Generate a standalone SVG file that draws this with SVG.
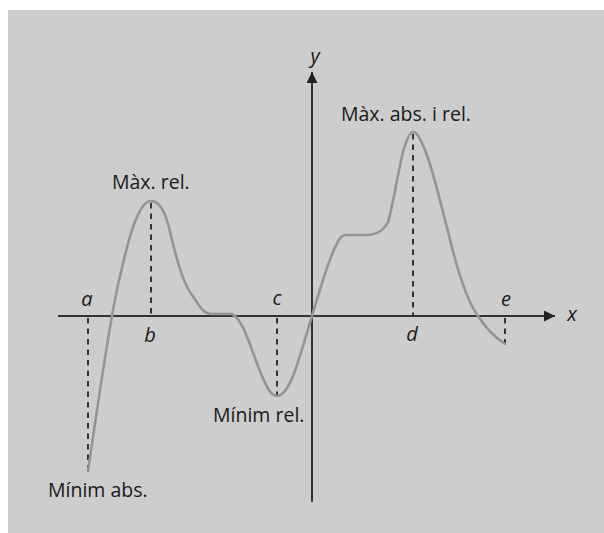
<svg xmlns="http://www.w3.org/2000/svg" width="604" height="533" viewBox="0 0 604 533">
  <defs>
    <style>
      .axis { stroke: #333; stroke-width: 2; fill: none; }
      .curve { stroke: #949494; stroke-width: 2.6; fill: none; stroke-linejoin: round; stroke-linecap: round; }
      .dash { stroke: #333; stroke-width: 2; stroke-dasharray: 5.5 5; fill: none; }
      .lbl { font-family: "Open Sans", "Noto Sans", "Liberation Sans", sans-serif; font-size: 19.5px; fill: #1a1a1a; }
      .var { font-family: "Open Sans", "Noto Sans", "Liberation Sans", sans-serif; font-size: 20px; font-style: italic; fill: #1a1a1a; text-anchor: middle; }
    </style>
    <marker id="arrow" viewBox="0 0 10 10" refX="10" refY="5" markerWidth="5.5" markerHeight="5.5" orient="auto" markerUnits="strokeWidth">
      <path d="M0,0 L10,5 L0,10 z" fill="#222"/>
    </marker>
  </defs>

  <rect id="background" x="8" y="10" width="596" height="523" fill="#cdcdcd"/>

  <g id="axes">
    <line class="axis" x1="58" y1="316" x2="555" y2="316" marker-end="url(#arrow)"/>
    <line class="axis" x1="312" y1="502" x2="312" y2="72" marker-end="url(#arrow)"/>
    <text class="var" x="572" y="321">x</text>
    <text class="var" x="315" y="63">y</text>
  </g>

  <g id="guides">
    <line class="dash" x1="88" y1="318" x2="88" y2="471"/>
    <line class="dash" x1="151" y1="203" x2="151" y2="316"/>
    <line class="dash" x1="277" y1="318" x2="277" y2="396"/>
    <line class="dash" x1="413" y1="134" x2="413" y2="316"/>
    <line class="dash" x1="505" y1="318" x2="505" y2="344"/>
  </g>

  <g id="function">
    <path class="curve" d="M88,471 C98,405 108,330 118,285 C128,240 138,201 151,201 C163,201 168,222 172,240 C178,265 184,285 192,295 C199,305 203,314 212,314 L232,314 C242,318 250,345 258,366 C265,384 270,396 277,396 C285,396 292,381 298,362 C304,343 309,326 312,316 C318,296 326,268 333,252 C337,243 340,235 346,235 L366,235 C376,235 384,230 388,222 C393,206 398,172 403,152 C407,138 410,132 413,132 C418,132 423,144 428,158 C437,185 446,225 454,255 C462,285 470,305 478,316 C487,330 496,338 505,344"/>
  </g>

  <g id="point-labels">
    <text class="var" x="87" y="306">a</text>
    <text class="var" x="150" y="342">b</text>
    <text class="var" x="277" y="305">c</text>
    <text class="var" x="412" y="341">d</text>
    <text class="var" x="506" y="306">e</text>
  </g>

  <g id="extrema-labels">
    <text class="lbl" x="112" y="189">Màx. rel.</text>
    <text class="lbl" x="341" y="121">Màx. abs. i rel.</text>
    <text class="lbl" x="213" y="422">Mínim rel.</text>
    <text class="lbl" x="48" y="497">Mínim abs.</text>
  </g>
</svg>
